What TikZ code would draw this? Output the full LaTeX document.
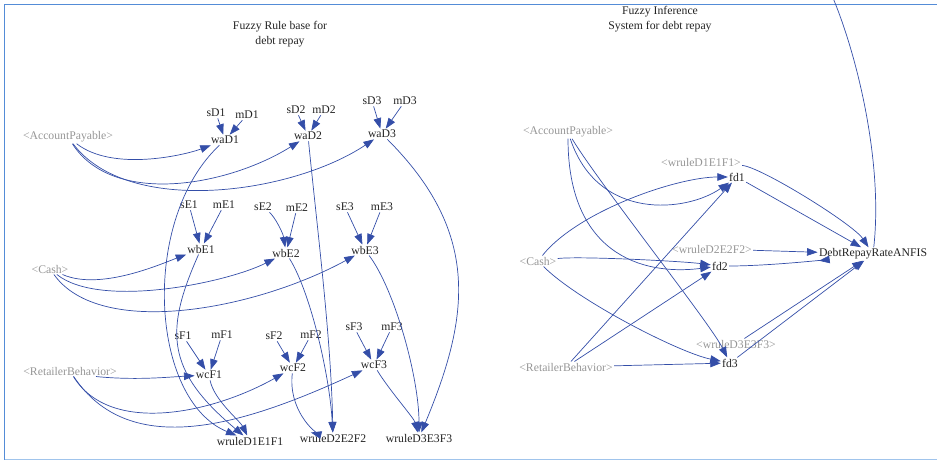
\documentclass[tikz,border=0pt]{standalone}
\usepackage{fontspec}
\setmainfont{Liberation Serif}
\usetikzlibrary{arrows.meta}
\definecolor{linkblue}{RGB}{52,78,168}
\definecolor{frametop}{RGB}{84,140,215}
\definecolor{framelow}{RGB}{160,196,236}
\definecolor{shadowgray}{RGB}{150,150,150}
\definecolor{vartext}{RGB}{35,35,35}

\begin{document}
\begin{tikzpicture}[x=0.03cm,y=-0.03cm,
  var/.style={inner sep=1pt, text=vartext, font=\fontsize{10}{12}\selectfont},
  ghost/.style={var, text=shadowgray},
  link/.style={draw=linkblue, line width=0.6pt, -{Triangle[length=9pt,width=6.5pt]}},
  plain/.style={draw=linkblue, line width=0.6pt},
  title/.style={align=center, text=vartext, inner sep=0pt, font=\fontsize{10}{13}\selectfont}]

\useasboundingbox (0,0) rectangle (937,461);

% panel frame
\draw[frametop, line width=1.2pt] (4.5,459.5) -- (4.5,4.5) -- (937,4.5);
\draw[framelow, line width=1.2pt] (4.5,459.5) -- (937,459.5);

% ---------------- fuzzy rule base ----------------
\node[title] (ttlA) at (280,34) {Fuzzy Rule base for\\debt repay};

\node[ghost] (ap1)   at (68,137)  {\textless AccountPayable\textgreater};
\node[ghost] (cash1) at (50,269)  {\textless Cash\textgreater};
\node[ghost] (rb1)   at (70,371)  {\textless RetailerBehavior\textgreater};

\node[var] (sD1) at (216,113) {sD1};
\node[var] (mD1) at (247,115) {mD1};
\node[var] (waD1) at (225,140) {waD1};
\node[var] (sD2) at (296,110) {sD2};
\node[var] (mD2) at (324,110) {mD2};
\node[var] (waD2) at (308,136) {waD2};
\node[var] (sD3) at (372,101) {sD3};
\node[var] (mD3) at (405,101) {mD3};
\node[var] (waD3) at (382,134) {waD3};

\node[var] (sE1) at (189,205) {sE1};
\node[var] (mE1) at (224,205) {mE1};
\node[var] (wbE1) at (201,249) {wbE1};
\node[var] (sE2) at (263,207) {sE2};
\node[var] (mE2) at (297,208) {mE2};
\node[var] (wbE2) at (286,253) {wbE2};
\node[var] (sE3) at (345,207) {sE3};
\node[var] (mE3) at (382,207) {mE3};
\node[var] (wbE3) at (365,250) {wbE3};

\node[var] (sF1) at (183,336) {sF1};
\node[var] (mF1) at (222,335) {mF1};
\node[var] (wcF1) at (209,375) {wcF1};
\node[var] (sF2) at (274,336) {sF2};
\node[var] (mF2) at (311,335) {mF2};
\node[var] (wcF2) at (293,368) {wcF2};
\node[var] (sF3) at (354,327) {sF3};
\node[var] (mF3) at (392,327) {mF3};
\node[var] (wcF3) at (374,365) {wcF3};

\node[var] (wr1) at (250,441) {wruleD1E1F1};
\node[var] (wr2) at (333,438) {wruleD2E2F2};
\node[var] (wr3) at (419,438) {wruleD3E3F3};

% membership parameters
\foreach \s/\t in {sD1/waD1,mD1/waD1,sD2/waD2,mD2/waD2,sD3/waD3,mD3/waD3,
                   sE1/wbE1,mE1/wbE1,mE2/wbE2,sE3/wbE3,mE3/wbE3,
                   sF1/wcF1,mF1/wcF1,sF2/wcF2,mF2/wcF2,sF3/wcF3,mF3/wcF3}
  \draw[link] (\s) -- (\t);
\draw[link] (sE2) .. controls +(12,10) and +(-3,-20) .. (wbE2);

% inputs to the antecedent weights
\draw[link] (ap1) .. controls +(45,35) and +(-40,15) .. (waD1);
\draw[link] (ap1) .. controls +(45,70) and +(-80,50) .. (waD2);
\draw[link] (ap1) .. controls +(60,80) and +(-90,60) .. (waD3);

\draw[link] (cash1) .. controls +(50,22) and +(-40,15) .. (wbE1);
\draw[link] (cash1) .. controls +(50,40) and +(-60,30) .. (wbE2);
\draw[link] (cash1) .. controls +(50,70) and +(-110,60) .. (wbE3);

\draw[link] (rb1.-12) .. controls +(40,4) and +(-40,2) .. (wcF1);
\draw[link] (rb1) .. controls +(40,65) and +(-80,45) .. (wcF2);
\draw[link] (rb1) .. controls +(60,90) and +(-130,60) .. (wcF3);

% weights to rule strengths
\draw[link] (waD1) .. controls +(-85,80) and +(-100,-41) .. (wr1);
\draw[link] (wbE1) .. controls +(-36,81) and +(-85,-71) .. (wr1);
\draw[link] (wcF1) .. controls +(5,25) and +(-10,-20) .. (wr1);

\draw[link] (waD2) .. controls +(10,100) and +(-2,-100) .. (wr2);
\draw[link] (wbE2) .. controls +(25,40) and +(-3,-60) .. (wr2);
\draw[link] (wcF2) .. controls +(-5,40) and +(-20,-5) .. (wr2);

\draw[link] (waD3) .. controls +(100,100) and +(50,-120) .. (wr3);
\draw[link] (wbE3) .. controls +(30,40) and +(0,-60) .. (wr3);
\draw[link] (wcF3) .. controls +(15,25) and +(-5,-20) .. (wr3);

% ---------------- fuzzy inference system ----------------
\node[title] (ttlB) at (660,19) {Fuzzy Inference\\System for debt repay};

\node[ghost] (ap2)   at (568,132) {\textless AccountPayable\textgreater};
\node[ghost] (cash2) at (538,261) {\textless Cash\textgreater};
\node[ghost] (rb2)   at (566,367) {\textless RetailerBehavior\textgreater};
\node[ghost] (wr1b)  at (701,162) {\textless wruleD1E1F1\textgreater};
\node[ghost] (wr2b)  at (712,249) {\textless wruleD2E2F2\textgreater};
\node[ghost] (wr3b)  at (736,344) {\textless wruleD3E3F3\textgreater};

\node[var] (fd1) at (737,177) {fd1};
\node[var] (fd2) at (720,266) {fd2};
\node[var] (fd3) at (730,363) {fd3};
\node[var] (drr) at (873,254) {DebtRepayRateANFIS};
\coordinate (drrtop) at (833,-2);

\draw[link] (ap2) .. controls +(30,90) and +(-50,35) .. (fd1);
\draw[link] (ap2) .. controls +(0,120) and +(-80,10) .. (fd2);
\draw[link] (ap2) .. controls +(30,50) and +(-20,-40) .. (fd3);

\draw[link] (cash2) .. controls +(40,-50) and +(-60,0) .. (fd1);
\draw[link] (cash2) .. controls +(40,-5) and +(-40,-5) .. (fd2);
\draw[link] (cash2) .. controls +(40,40) and +(-50,-10) .. (fd3);

\draw[link] (rb2) -- (fd1);
\draw[link] (rb2) -- (fd2);
\draw[link] (rb2) -- (fd3);

\draw[link] (wr1b) .. controls +(60,5) and +(-20,-30) .. (drr);
\draw[link] (fd1) -- (drr);
\draw[link] (wr2b) -- (drr);
\draw[link] (fd2) .. controls +(50,0) and +(-40,5) .. (drr);
\draw[link] (wr3b) -- (drr);
\draw[link] (fd3) -- (drr);

\draw[plain] (drr) .. controls +(10,-90) and +(25,60) .. (drrtop);

\end{tikzpicture}
\end{document}
